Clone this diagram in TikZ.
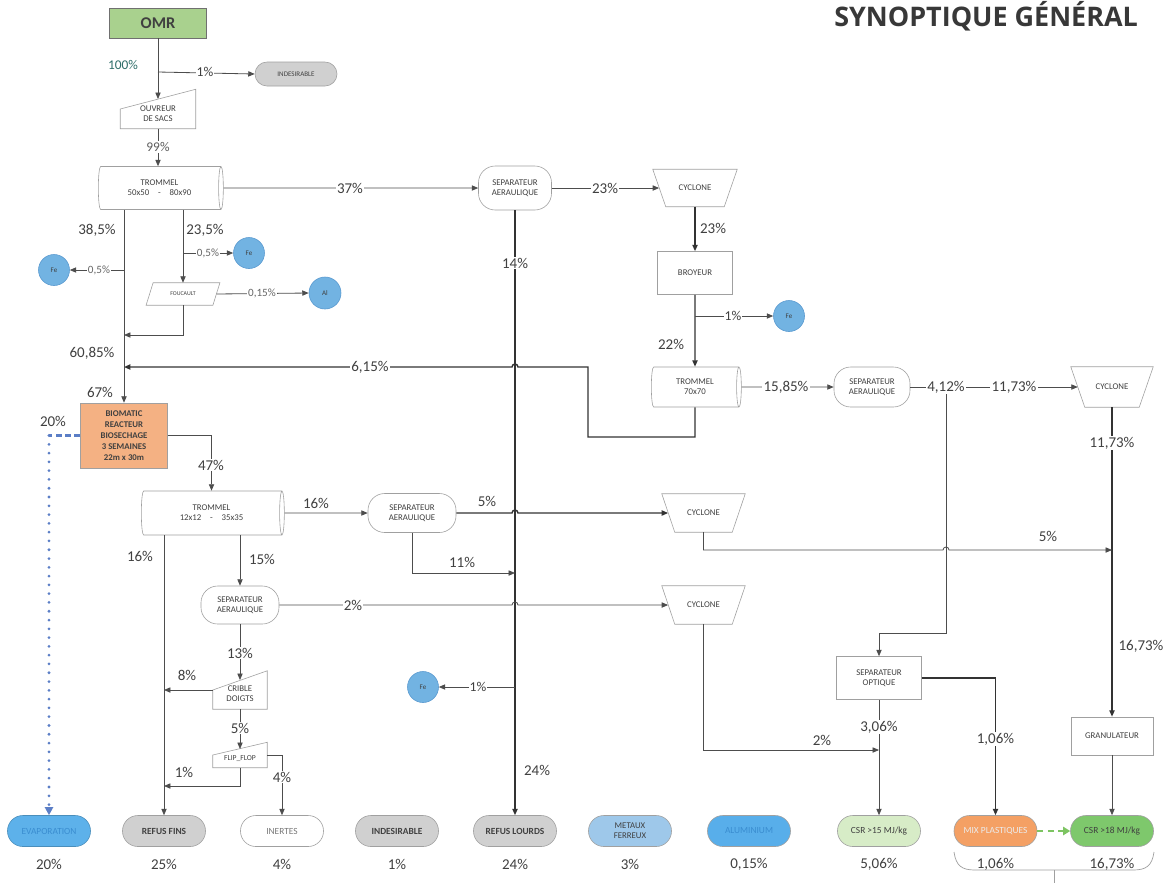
\documentclass[tikz,border=0pt]{standalone}
\usepackage{fontspec}
\setmainfont{Carlito}
\newfontfamily\titlefont{Open Sans}
\usetikzlibrary{arrows.meta,shapes.geometric}
\definecolor{ln}{HTML}{4D4D4D}
\definecolor{bd}{HTML}{A0A0A0}
\definecolor{tx}{HTML}{404040}
\definecolor{teal1}{HTML}{2F6F6A}
\definecolor{omrg}{HTML}{A9D18E}
\definecolor{bioor}{HTML}{F4B183}
\definecolor{fecol}{HTML}{72B3E2}
\definecolor{febd}{HTML}{5A9AD0}
\definecolor{grayp}{HTML}{D0D0D0}
\definecolor{evapc}{HTML}{5DB1EA}
\definecolor{evapt}{HTML}{3A8DD0}
\definecolor{metc}{HTML}{9EC8EA}
\definecolor{aluc}{HTML}{58AEEA}
\definecolor{csra}{HTML}{D7ECC7}
\definecolor{mixc}{HTML}{F4A064}
\definecolor{csrb}{HTML}{7EC86C}
\definecolor{dotb}{HTML}{5B7EC6}
\definecolor{dashg}{HTML}{7DC462}
\tikzset{
  pct/.style={font=\fontsize{12.8}{14}\selectfont, text=tx, inner sep=1pt},
  pcton/.style={pct, fill=white},
  spct/.style={font=\fontsize{9.5}{10}\selectfont, text=tx!80, inner sep=1pt, fill=white},
  mpct/.style={font=\fontsize{11.6}{12}\selectfont, text=tx, inner sep=1pt, fill=white},
  flow/.style={draw=ln, line width=0.7pt},
  arr/.style={flow, -{Triangle[length=5.5pt,width=4.5pt]}},
  heavy/.style={line width=1.2pt, draw=black!80},
  ntext/.style={font=\fontsize{7.5}{8.5}\selectfont, text=tx, align=center},
  boxn/.style={ntext, draw=bd, fill=white, inner sep=0pt, line width=0.5pt},
  sepa/.style={boxn, rounded corners=0.5cm},
  plain/.style={ntext, inner sep=0pt},
  trom/.style={boxn, cylinder, shape aspect=0.3},
  circ/.style={circle, draw=febd, fill=fecol, minimum size=0.93cm, inner sep=0pt, font=\fontsize{6}{6}\selectfont, text=tx, line width=0.5pt},
  pill/.style={draw=bd, line width=0.5pt, rounded corners=0.46cm, minimum width=2.49cm, minimum height=0.93cm, inner sep=0pt, align=center, font=\fontsize{8}{9}\selectfont, text=tx},
  mshape/.style={draw=bd, line width=0.5pt},
}
\begin{document}
\begin{tikzpicture}[x=0.03cm, y=-0.03cm]
\fill[white] (0,0) rectangle (1172,883);
\path[use as bounding box] (0,0) rectangle (1172,883);

% title
\node[font=\titlefont\bfseries\fontsize{23}{25}\selectfont, text=black!78, anchor=east] (title) at (1142,16) {SYNOPTIQUE GÉNÉRAL};

% ---------- nodes ----------
\node[draw=bd!70!black, fill=omrg, minimum width=2.91cm, minimum height=0.9cm, font=\bfseries\fontsize{14}{14}\selectfont, text=tx] (omr) at (158,23) {OMR};
\node[pill, fill=grayp, minimum width=2.46cm, minimum height=0.72cm, rounded corners=0.36cm, font=\fontsize{6}{6}\selectfont] (ind1) at (296,74) {INDESIRABLE};
\node[plain, minimum width=2.25cm, minimum height=1.17cm] (ouv) at (158,109) {};
\node[trom, minimum height=3.75cm, minimum width=1.29cm] (t1) at (159.5,188) {TROMMEL\\50x50\quad-\quad80x90};
\node[sepa, minimum width=2.19cm, minimum height=1.32cm] (sep1) at (515,188) {SEPARATEUR\\AERAULIQUE};
\node[plain, minimum width=2.52cm, minimum height=1.11cm] (cyc1) at (695,188) {CYCLONE};
\node[boxn, minimum width=2.25cm, minimum height=1.29cm] (broy) at (695,273) {BROYEUR};
\node[circ] (feb) at (789,316) {Fe};
\node[trom, minimum height=2.7cm, minimum width=1.2cm] (t2) at (695,387) {TROMMEL\\70x70};
\node[sepa, minimum width=2.28cm, minimum height=1.2cm] (sep2) at (872,387) {SEPARATEUR\\AERAULIQUE};
\node[plain, minimum width=2.46cm, minimum height=1.2cm] (cyc2) at (1112,387) {CYCLONE};
\node[circ] (fel) at (54,270) {Fe};
\node[circ] (fet) at (249,253) {Fe};
\node[plain, minimum width=2.2cm, minimum height=0.66cm, font=\fontsize{5}{5}\selectfont] (fou) at (183,294) {FOUCAULT};
\node[circ, minimum size=0.96cm] (al) at (325,293) {Al};
\node[draw=bd, fill=bioor, minimum width=2.61cm, minimum height=1.95cm, align=center, font=\bfseries\fontsize{7.5}{9.5}\selectfont, text=tx, inner sep=0pt] (bio) at (124,435.5) {BIOMATIC\\REACTEUR\\BIOSECHAGE\\3 SEMAINES\\22m x 30m};
\node[trom, minimum height=4.29cm, minimum width=1.32cm] (t3) at (211.5,513) {TROMMEL\\12x12\quad-\quad35x35};
\node[sepa, minimum width=2.64cm, minimum height=1.17cm] (sep3) at (412,513) {SEPARATEUR\\AERAULIQUE};
\node[plain, minimum width=2.49cm, minimum height=1.14cm] (cyc3) at (703.5,513) {CYCLONE};
\node[sepa, minimum width=2.34cm, minimum height=1.14cm] (sep4) at (240,605) {SEPARATEUR\\AERAULIQUE};
\node[plain, minimum width=2.49cm, minimum height=1.14cm] (cyc4) at (703.5,605) {CYCLONE};
\node[plain, minimum width=1.62cm, minimum height=1.14cm] (crib) at (240,690) {};
\node[plain, minimum width=1.62cm, minimum height=0.75cm] (flip) at (240,755) {};
\node[circ] (fem) at (423,687) {Fe};
\node[boxn, minimum width=2.55cm, minimum height=1.29cm] (opt) at (879,678) {SEPARATEUR\\OPTIQUE};
\node[boxn, minimum width=2.46cm, minimum height=1.14cm] (gra) at (1112,736) {GRANULATEUR};

% outlines of the special shapes
\draw[mshape] (ouv.south west) -- (ouv.south east) -- (ouv.north east) -- (ouv.west) -- cycle;
\draw[mshape] (crib.south west) -- (crib.south east) -- (crib.north east) -- (crib.west) -- cycle;
\draw[mshape] (flip.south west) -- (flip.south east) -- (flip.north east) -- (flip.west) -- cycle;
\draw[mshape] (cyc1.north west) -- (cyc1.north east) -- ([xshift=-0.39cm]cyc1.south east) -- ([xshift=0.39cm]cyc1.south west) -- cycle;
\draw[mshape] (cyc2.north west) -- (cyc2.north east) -- ([xshift=-0.42cm]cyc2.south east) -- ([xshift=0.42cm]cyc2.south west) -- cycle;
\draw[mshape] (cyc3.north west) -- (cyc3.north east) -- ([xshift=-0.39cm]cyc3.south east) -- ([xshift=0.39cm]cyc3.south west) -- cycle;
\draw[mshape] (cyc4.north west) -- (cyc4.north east) -- ([xshift=-0.39cm]cyc4.south east) -- ([xshift=0.39cm]cyc4.south west) -- cycle;
\draw[mshape] (fou.south west) -- ([xshift=-0.21cm]fou.south east) -- (fou.north east) -- ([xshift=0.21cm]fou.north west) -- cycle;
\node[ntext] (ouvtxt) at ([yshift=-0.14cm]ouv.center) {OUVREUR\\DE SACS};
\node[ntext] (cribtxt) at ([yshift=-0.12cm]crib.center) {CRIBLE\\DOIGTS};
\node[ntext, font=\fontsize{6.5}{7}\selectfont] (fliptxt) at ([yshift=-0.1cm]flip.center) {FLIP\_FLOP};

% bottom row
\node[pill, fill=evapc, draw=evapc!80!black, text=evapt] (evap) at (49,831) {EVAPORATION};
\node[pill, fill=grayp, font=\bfseries\fontsize{8}{9}\selectfont] (rf) at (164,831) {REFUS FINS};
\node[pill, fill=white, text=tx!70] (inert) at (282,831) {INERTES};
\node[pill, fill=grayp, font=\bfseries\fontsize{8}{9}\selectfont] (ind2) at (397,831) {INDESIRABLE};
\node[pill, fill=grayp, font=\bfseries\fontsize{8}{9}\selectfont] (rl) at (515,831) {REFUS LOURDS};
\node[pill, fill=metc, font=\fontsize{7.5}{8.5}\selectfont] (met) at (630,831) {METAUX\\FERREUX};
\node[pill, fill=aluc, text=evapt] (alu) at (749,831) {ALUMINIUM};
\node[pill, fill=csra] (csr1) at (879,831) {CSR >15 MJ/kg};
\node[pill, fill=mixc, text=white!92!black] (mix) at (995.5,831) {MIX PLASTIQUES};
\node[pill, fill=csrb] (csr2) at (1112,831) {CSR >18 MJ/kg};

% ---------- connectors ----------
\coordinate (j1) at (158,72);
\coordinate (ouvin) at (158,99);
\draw[flow] (omr.south) -- (j1);
\draw[arr] (j1) -- (ouvin);
\draw[arr] (j1) -- (ind1.west);
\draw[arr] (ouv.south) -- (ouv.south |- t1.north);
\draw[arr] (t1.east) -- (sep1.west);
\draw[arr] (sep1.east) -- ([xshift=0.19cm]cyc1.west);
\draw[arr, heavy] (cyc1.south) -- (broy.north);
\draw[arr, heavy] (broy.south) -- (t2.north);
\draw[arr] (broy.south |- feb.west) -- (feb.west);
\draw[arr] (t2.east) -- (sep2.west);
\draw[arr] (sep2.east) -- ([xshift=0.21cm]cyc2.west);
\coordinate (k412) at (946,633);
\draw[arr] (sep2.east -| k412) -- (k412) -| (opt.north);
\draw[arr, heavy] (cyc2.south) -- (gra.north);
\draw[arr] (gra.south) -- (csr2.north);
\coordinate (m367) at (124,367);
\draw[arr, heavy] (t2.south) -- (695,437) -- (588,437) -- (588,367) -- (518,367) arc[start angle=0, end angle=180, radius=0.09cm] -- (m367);
\draw[arr, heavy] (sep1.south) -- (rl.north);
\draw[arr] (sep1.south |- fem.east) -- (fem.east);
\draw[arr] (t1.south -| bio.north) -- (bio.north);
\draw[arr] (bio.north |- fel.east) -- (fel.east);
\draw[arr] (t1.south -| fou.north) -- (fou.north);
\draw[arr] (fou.north |- fet.west) -- (fet.west);
\draw[arr] ([xshift=-0.1cm]fou.east) -- (al.west);
\coordinate (m335) at (124,335);
\draw[arr] (fou.south) |- (m335);
\draw[dotb, line width=2pt, dash pattern=on 5pt off 3pt] (bio.west) -- (bio.west -| evap.north);
\draw[dotb, line width=2.6pt, line cap=round, dash pattern=on 0pt off 7.5pt, -{Triangle[length=7pt,width=7pt]}] (bio.west -| evap.north) -- (evap.north);
\draw[arr] (bio.east) -| (t3.north);
\draw[arr] (t3.east) -- (sep3.west);
\draw[arr] (t3.south -| rf.north) -- (rf.north);
\draw[arr] (t3.south -| sep4.north) -- (sep4.north);
\draw[arr, heavy] (sep3.east) -- (512,513) arc[start angle=180, end angle=0, radius=0.09cm] -- ([xshift=0.19cm]cyc3.west);
\coordinate (m573) at (515,573);
\draw[arr] (sep3.south) |- (m573);
\coordinate (m550) at (1112,550);
\draw[arr] (cyc3.south) -- (cyc3.south |- m550) -- (943,550) arc[start angle=180, end angle=0, radius=0.09cm] -- (m550);
\draw[arr] (sep4.east) -- (512,605) arc[start angle=180, end angle=0, radius=0.09cm] -- ([xshift=0.19cm]cyc4.west);
\coordinate (m750) at (879,750);
\draw[arr] (cyc4.south) |- (m750);
\coordinate (cribin) at (240,680);
\draw[arr] (sep4.south) -- (cribin);
\draw[arr] (crib.west) -- (crib.west -| rf.north);
\coordinate (flipin) at (240,749);
\draw[arr] (crib.south) -- (flipin);
\coordinate (m786) at (164,786);
\draw[arr] (flip.south) |- (m786);
\draw[arr] (flip.east) -| (inert.north);
\draw[arr] (opt.south) -- (csr1.north);
\draw[arr, heavy] (opt.east) -| (mix.north);
\draw[dashg, line width=2.4pt, dash pattern=on 5pt off 4pt, -{Triangle[length=6pt,width=7pt]}] (mix.east) -- (csr2.west);

% brace under the last two
\draw[bd, line width=0.6pt] (954,852) .. controls (956,866) and (962,870) .. (975,870) -- (1133,870) .. controls (1146,870) and (1152,866) .. (1154,852);
\draw[bd, line width=0.6pt] (1054,870) -- (1054,883);

% ---------- labels ----------
\node[pct, text=teal1, font=\fontsize{11.4}{12}\selectfont] (l100) at (123,65) {100\%};
\node[mpct] (l1) at (205,72) {1\%};
\node[pcton, text=tx!85, font=\fontsize{11.4}{12}\selectfont] (l99) at (158,147) {99\%};
\node[pcton] (l37) at (350,188) {37\%};
\node[pcton] (l23a) at (605,188) {23\%};
\node[pct] (l23b) at (713,228) {23\%};
\node[mpct] (l1b) at (733,316) {1\%};
\node[pct] (l22) at (671,344) {22\%};
\node[pcton] (l1585) at (786,387) {15,85\%};
\node[pcton] (l412) at (946,387) {4,12\%};
\node[pcton] (l1173a) at (1014,387) {11,73\%};
\node[pcton] (l1173b) at (1112,443) {11,73\%};
\node[pct] (l1673) at (1141,646) {16,73\%};
\node[pcton] (l615) at (370,367) {6,15\%};
\node[pcton] (l14) at (515,263) {14\%};
\node[pct] (l24) at (537,770) {24\%};
\node[mpct] (l1c) at (478,687) {1\%};
\node[pct] (l385) at (97,230) {38,5\%};
\node[pct] (l6085) at (92,353) {60,85\%};
\node[pct] (l67) at (100,392) {67\%};
\node[spct] (l05a) at (99,270) {0,5\%};
\node[pct] (l235) at (205,230) {23,5\%};
\node[spct] (l05b) at (208,253) {0,5\%};
\node[spct] (l015) at (262,293) {0,15\%};
\node[pct] (l20) at (53,421) {20\%};
\node[pcton] (l47) at (211,465) {47\%};
\node[pct] (l16a) at (316,503) {16\%};
\node[pct] (l16b) at (140,556) {16\%};
\node[pct] (l15) at (262,559) {15\%};
\node[pct] (l5a) at (487,501) {5\%};
\node[pct] (l11) at (462,562) {11\%};
\node[pct] (l5b) at (1048,536) {5\%};
\node[pcton] (l2a) at (353,605) {2\%};
\node[pct] (l2b) at (822,740) {2\%};
\node[pcton] (l13) at (240,653) {13\%};
\node[pct] (l8) at (187,675) {8\%};
\node[pcton] (l5c) at (240,728) {5\%};
\node[pct] (l1d) at (184,772) {1\%};
\node[pcton] (l4) at (282,777) {4\%};
\node[pcton] (l306) at (879,727) {3,06\%};
\node[pcton] (l106) at (995.5,739) {1,06\%};

% bottom percentages
\node[pct] (b1) at (49,864) {20\%};
\node[pct] (b2) at (164,864) {25\%};
\node[pct] (b3) at (282,864) {4\%};
\node[pct] (b4) at (397,864) {1\%};
\node[pct] (b5) at (515,864) {24\%};
\node[pct] (b6) at (630,864) {3\%};
\node[pct] (b7) at (749,864) {0,15\%};
\node[pct] (b8) at (879,864) {5,06\%};
\node[pct] (b9) at (995.5,864) {1,06\%};
\node[pct] (b10) at (1112,864) {16,73\%};
\end{tikzpicture}
\end{document}
